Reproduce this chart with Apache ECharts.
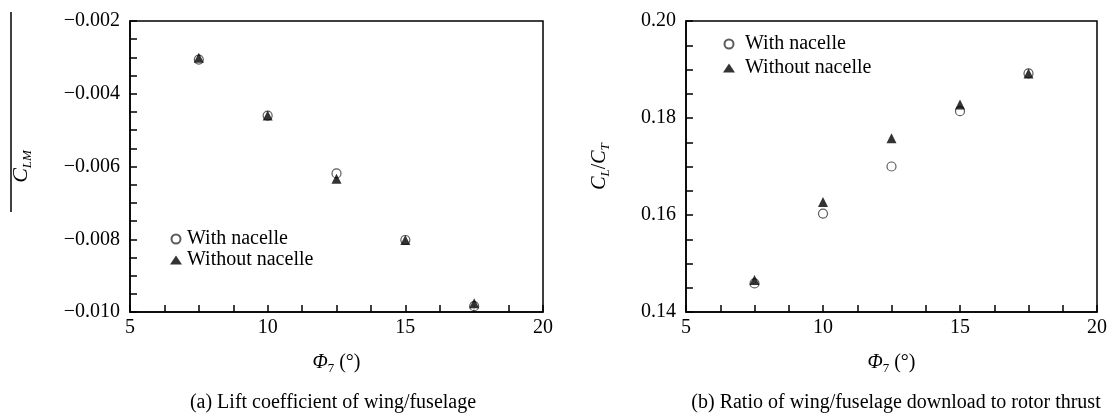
<!DOCTYPE html>
<html>
<head>
<meta charset="utf-8">
<script src="https://cdn.jsdelivr.net/npm/echarts@6/dist/echarts.min.js"></script>
<style>
html,body{margin:0;padding:0;background:#fff;}
#c{width:1110px;height:414px;}
</style>
</head>
<body>
<div id="c"></div>
<script>
// Data
const phi = [7.5, 10, 12.5, 15, 17.5];
const seriesNames = ['With nacelle', 'Without nacelle'];
const clmWith = [-0.00306, -0.00460, -0.00619, -0.00802, -0.00984];
const clmWithout = [-0.00301, -0.00460, -0.00634, -0.00802, -0.00976];
const ratioWith = [0.1459, 0.1603, 0.1700, 0.1814, 0.1892];
const ratioWithout = [0.1466, 0.1627, 0.1758, 0.1828, 0.1892];
const xTicks = [5, 10, 15, 20];
const captions = ['(a) Lift coefficient of wing/fuselage', '(b) Ratio of wing/fuselage download to rotor thrust'];

const FONT = '"Liberation Serif","DejaVu Serif",serif';
const pts = (xs, ys) => xs.map((x, i) => [x, ys[i]]);

const chart = echarts.init(document.getElementById('c'), null, {renderer: 'canvas'});

const axisCommon = {
  axisLine: {show: true, onZero: false, lineStyle: {color: '#000', width: 1.5}},
  axisTick: {show: true, inside: true, length: 7, lineStyle: {color: '#000', width: 1.5}},
  minorTick: {show: true, splitNumber: 4, length: 7, lineStyle: {color: '#000', width: 1.5}},
  splitLine: {show: false},
  axisLabel: {color: '#000', fontFamily: FONT, fontSize: 20, margin: 10}
};

const xAxisBase = (gi) => Object.assign({}, axisCommon, {
  type: 'value', gridIndex: gi, min: 5, max: 20, interval: 5,
  name: '{i|Φ}{s|7}{n| (°)}',
  nameLocation: 'middle', nameGap: 38,
  nameTextStyle: {
    color: '#000', fontFamily: FONT, fontSize: 20,
    rich: {
      i: {fontFamily: FONT, fontSize: 20, fontStyle: 'italic', color: '#000'},
      s: {fontFamily: FONT, fontSize: 13, color: '#000', padding: [12, 0, 0, 0]},
      n: {fontFamily: FONT, fontSize: 20, color: '#000'}
    }
  },
  axisLabel: Object.assign({}, axisCommon.axisLabel, {
    margin: 6,
    formatter: v => xTicks.indexOf(v) >= 0 ? String(v) : ''
  })
});

const legendText = {fontFamily: FONT, fontSize: 20, color: '#000', padding: [0, 0, 0, 0]};

const option = {
  backgroundColor: '#fff',
  animation: false,
  textStyle: {fontFamily: FONT, color: '#000'},
  grid: [
    {left: 130, right: 567, top: 21, bottom: 102, show: true, borderColor: '#000', borderWidth: 1.5, backgroundColor: 'transparent'},
    {left: 686, right: 11, top: 21, bottom: 102, show: true, borderColor: '#000', borderWidth: 1.5, backgroundColor: 'transparent'}
  ],
  xAxis: [xAxisBase(0), xAxisBase(1)],
  yAxis: [
    Object.assign({}, axisCommon, {
      type: 'value', gridIndex: 0, min: -0.010, max: -0.002, interval: 0.002,
      name: '{i|C}{s|LM}', nameLocation: 'middle', nameGap: 96, nameRotate: 90,
      nameTextStyle: {
        color: '#000', fontFamily: FONT, fontSize: 20,
        rich: {
          i: {fontFamily: FONT, fontSize: 22, fontStyle: 'italic', color: '#000'},
          s: {fontFamily: FONT, fontSize: 13, fontStyle: 'italic', color: '#000', padding: [12, 0, 0, 0]}
        }
      },
      axisLabel: Object.assign({}, axisCommon.axisLabel, {
        formatter: v => (v < 0 ? '\u2212' : '') + Math.abs(v).toFixed(3)
      })
    }),
    Object.assign({}, axisCommon, {
      type: 'value', gridIndex: 1, min: 0.14, max: 0.20, interval: 0.02,
      name: '{i|C}{s|L}{n|/}{i|C}{s|T}', nameLocation: 'middle', nameGap: 74, nameRotate: 90,
      nameTextStyle: {
        color: '#000', fontFamily: FONT, fontSize: 20,
        rich: {
          i: {fontFamily: FONT, fontSize: 20, fontStyle: 'italic', color: '#000'},
          s: {fontFamily: FONT, fontSize: 13, fontStyle: 'italic', color: '#000', padding: [12, 0, 0, 0]},
          n: {fontFamily: FONT, fontSize: 20, color: '#000'}
        }
      },
      axisLabel: Object.assign({}, axisCommon.axisLabel, {
        formatter: v => v.toFixed(2)
      })
    })
  ],
  legend: [
    {
      data: seriesNames, orient: 'vertical', left: 165, top: 224, itemGap: 1,
      itemWidth: 12, itemHeight: 9,
      textStyle: legendText,
      selectedMode: false
    },
    {
      data: seriesNames, orient: 'vertical', left: 718, top: 29, itemGap: 4,
      itemWidth: 12, itemHeight: 9,
      textStyle: Object.assign({}, legendText, {padding: [0, 0, 0, 5]}),
      selectedMode: false
    }
  ],
  series: [
    {name: seriesNames[0], type: 'scatter', xAxisIndex: 0, yAxisIndex: 0, data: pts(phi, clmWith),
     symbol: 'circle', symbolSize: 9, itemStyle: {color: '#fff', borderColor: '#333', borderWidth: 1.2}, z: 2},
    {name: seriesNames[1], type: 'scatter', xAxisIndex: 0, yAxisIndex: 0, data: pts(phi, clmWithout),
     symbol: 'triangle', symbolSize: 10, itemStyle: {color: '#000'}, z: 3},
    {name: seriesNames[0], type: 'scatter', xAxisIndex: 1, yAxisIndex: 1, data: pts(phi, ratioWith),
     symbol: 'circle', symbolSize: 9, itemStyle: {color: '#fff', borderColor: '#333', borderWidth: 1.2}, z: 2},
    {name: seriesNames[1], type: 'scatter', xAxisIndex: 1, yAxisIndex: 1, data: pts(phi, ratioWithout),
     symbol: 'triangle', symbolSize: 10, itemStyle: {color: '#000'}, z: 3}
  ],
  graphic: [
    {type: 'line', shape: {x1: 11, y1: 12, x2: 11, y2: 212}, style: {stroke: '#000', lineWidth: 1.5}},
    {type: 'text', x: 333, y: 403, style: {text: captions[0], font: '20px ' + FONT, fill: '#000', textAlign: 'center', textVerticalAlign: 'middle'}},
    {type: 'text', x: 896, y: 403, style: {text: captions[1], font: '20px ' + FONT, fill: '#000', textAlign: 'center', textVerticalAlign: 'middle'}}
  ]
};
chart.setOption(option);
</script>
</body>
</html>
